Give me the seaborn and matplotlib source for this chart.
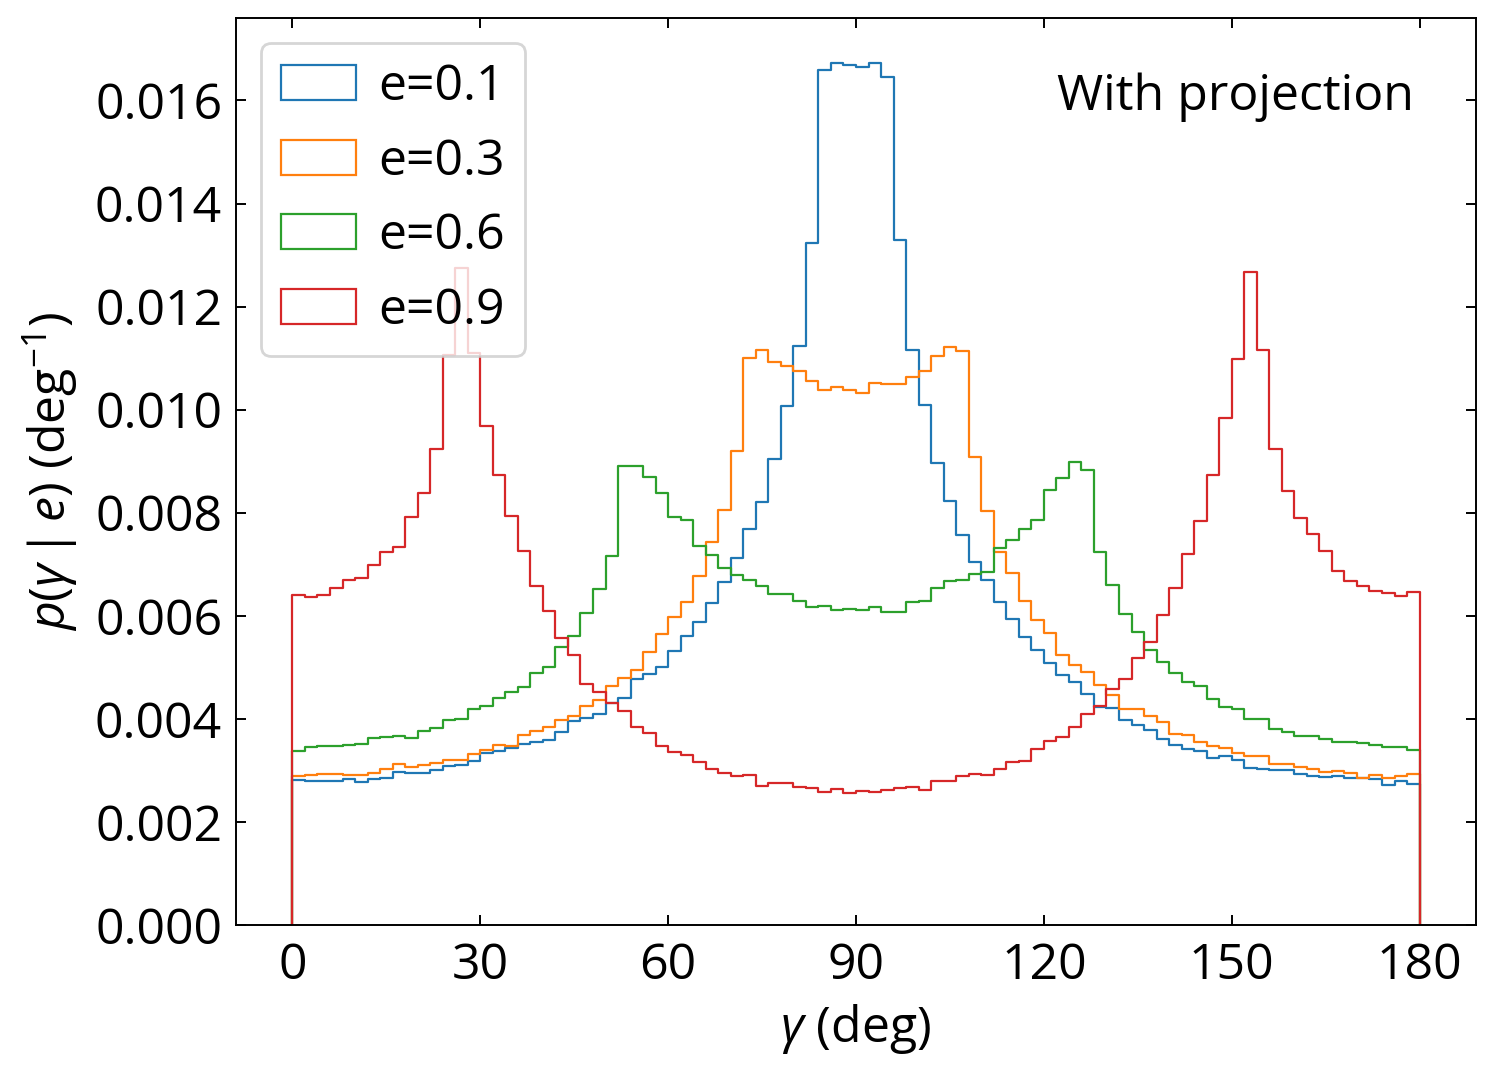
import numpy as np
import pandas as pd
import matplotlib
matplotlib.use("Agg")
import matplotlib.pyplot as plt
from matplotlib.patches import Patch
import seaborn as sns

# ------------------------------------------------------------------ #
# Step histograms of the angle gamma for four eccentricities,
# 2 degree bins from 0 to 180
# ------------------------------------------------------------------ #

bin_edges = np.arange(0, 181, 2)
labels = ["e=0.1", "e=0.3", "e=0.6", "e=0.9"]
colors = ["#1f77b4", "#ff7f0e", "#2ca02c", "#d62728"]

p_e01 = [0.00282, 0.00280, 0.00280, 0.00280, 0.00284, 0.00278, 0.00284, 0.00286, 0.00296, 0.00295,
         0.00295, 0.00300, 0.00309, 0.00310, 0.00319, 0.00333, 0.00337, 0.00343, 0.00351, 0.00355,
         0.00359, 0.00374, 0.00395, 0.00401, 0.00410, 0.00430, 0.00441, 0.00477, 0.00487, 0.00500,
         0.00532, 0.00560, 0.00588, 0.00625, 0.00665, 0.00712, 0.00768, 0.00821, 0.00905, 0.01008,
         0.01123, 0.01324, 0.01660, 0.01673, 0.01669, 0.01664, 0.01673, 0.01646, 0.01329, 0.01116,
         0.01009, 0.00897, 0.00823, 0.00757, 0.00705, 0.00670, 0.00627, 0.00594, 0.00559, 0.00533,
         0.00509, 0.00485, 0.00471, 0.00448, 0.00423, 0.00421, 0.00397, 0.00388, 0.00378, 0.00361,
         0.00350, 0.00341, 0.00337, 0.00324, 0.00328, 0.00320, 0.00305, 0.00302, 0.00300, 0.00300,
         0.00293, 0.00289, 0.00287, 0.00289, 0.00285, 0.00285, 0.00283, 0.00271, 0.00279, 0.00273]

p_e03 = [0.00289, 0.00291, 0.00293, 0.00294, 0.00291, 0.00291, 0.00295, 0.00302, 0.00312, 0.00307,
         0.00310, 0.00315, 0.00321, 0.00321, 0.00331, 0.00340, 0.00350, 0.00348, 0.00368, 0.00377,
         0.00385, 0.00398, 0.00406, 0.00425, 0.00437, 0.00464, 0.00480, 0.00495, 0.00529, 0.00565,
         0.00597, 0.00627, 0.00678, 0.00744, 0.00805, 0.00920, 0.01100, 0.01116, 0.01093, 0.01085,
         0.01075, 0.01056, 0.01039, 0.01044, 0.01038, 0.01033, 0.01052, 0.01050, 0.01049, 0.01063,
         0.01075, 0.01104, 0.01122, 0.01114, 0.00909, 0.00803, 0.00724, 0.00683, 0.00629, 0.00592,
         0.00566, 0.00524, 0.00505, 0.00491, 0.00465, 0.00446, 0.00419, 0.00419, 0.00405, 0.00394,
         0.00371, 0.00369, 0.00355, 0.00348, 0.00343, 0.00333, 0.00328, 0.00328, 0.00313, 0.00313,
         0.00306, 0.00302, 0.00297, 0.00299, 0.00295, 0.00285, 0.00291, 0.00285, 0.00289, 0.00293]

p_e06 = [0.00338, 0.00345, 0.00348, 0.00348, 0.00350, 0.00352, 0.00363, 0.00365, 0.00367, 0.00363,
         0.00377, 0.00383, 0.00397, 0.00400, 0.00419, 0.00425, 0.00441, 0.00452, 0.00462, 0.00489,
         0.00500, 0.00539, 0.00561, 0.00605, 0.00652, 0.00717, 0.00891, 0.00891, 0.00869, 0.00839,
         0.00792, 0.00785, 0.00736, 0.00718, 0.00692, 0.00679, 0.00670, 0.00658, 0.00642, 0.00642,
         0.00629, 0.00617, 0.00619, 0.00612, 0.00614, 0.00612, 0.00617, 0.00607, 0.00607, 0.00627,
         0.00629, 0.00654, 0.00667, 0.00670, 0.00681, 0.00685, 0.00731, 0.00747, 0.00768, 0.00786,
         0.00844, 0.00867, 0.00898, 0.00883, 0.00724, 0.00660, 0.00603, 0.00569, 0.00534, 0.00511,
         0.00489, 0.00471, 0.00463, 0.00439, 0.00423, 0.00419, 0.00399, 0.00399, 0.00380, 0.00374,
         0.00367, 0.00367, 0.00361, 0.00355, 0.00355, 0.00353, 0.00349, 0.00345, 0.00345, 0.00339]

p_e09 = [0.00640, 0.00637, 0.00641, 0.00653, 0.00669, 0.00674, 0.00699, 0.00723, 0.00734, 0.00792,
         0.00838, 0.00924, 0.01106, 0.01275, 0.01109, 0.00969, 0.00874, 0.00794, 0.00725, 0.00658,
         0.00609, 0.00557, 0.00524, 0.00467, 0.00452, 0.00430, 0.00416, 0.00385, 0.00372, 0.00348,
         0.00335, 0.00330, 0.00316, 0.00302, 0.00295, 0.00289, 0.00291, 0.00270, 0.00275, 0.00275,
         0.00267, 0.00265, 0.00258, 0.00263, 0.00256, 0.00260, 0.00258, 0.00262, 0.00265, 0.00267,
         0.00262, 0.00279, 0.00280, 0.00289, 0.00293, 0.00291, 0.00303, 0.00316, 0.00318, 0.00342,
         0.00357, 0.00364, 0.00384, 0.00410, 0.00425, 0.00458, 0.00478, 0.00518, 0.00550, 0.00601,
         0.00654, 0.00720, 0.00784, 0.00874, 0.00984, 0.01098, 0.01267, 0.01116, 0.00924, 0.00843,
         0.00790, 0.00759, 0.00725, 0.00686, 0.00668, 0.00658, 0.00649, 0.00644, 0.00639, 0.00646]

all_p = [p_e01, p_e03, p_e06, p_e09]
bin_centers = 0.5 * (bin_edges[:-1] + bin_edges[1:])

sns.set_style("ticks", rc={"xtick.direction": "in", "ytick.direction": "in",
                           "xtick.top": True, "ytick.right": True,
                           "axes.edgecolor": "black", "text.color": "black",
                           "axes.labelcolor": "black", "xtick.color": "black",
                           "ytick.color": "black"})
plt.rcParams['font.family'] = ['Open Sans', 'DejaVu Sans']
plt.rcParams['mathtext.fontset'] = 'custom'
plt.rcParams['mathtext.rm'] = 'Open Sans'
plt.rcParams['mathtext.it'] = 'Open Sans:italic'
plt.rcParams['mathtext.bf'] = 'Open Sans:bold'
plt.rcParams['font.size'] = 18
plt.rcParams['axes.linewidth'] = 0.7
plt.rcParams['xtick.major.width'] = 0.7
plt.rcParams['ytick.major.width'] = 0.7

fs = 18
fig = plt.figure(figsize=(7.48, 5.385), dpi=200)
ax = fig.add_axes([0.1578, 0.1411, 0.8288, 0.8422])

handles = []
for p, lab, c in zip(all_p, labels, colors):
    df = pd.DataFrame({"gamma": bin_centers, "p": p})
    sns.histplot(data=df, x="gamma", weights="p", binwidth=2, binrange=(0, 180),
                 element="step", fill=False, color=c, linewidth=0.8, ax=ax)
    # closing edges of the step outline down to zero
    ax.vlines([bin_edges[0], bin_edges[-1]], 0, [p[0], p[-1]], color=c, linewidth=0.8)
    handles.append(Patch(facecolor="none", edgecolor=c, linewidth=0.8, label=lab))

ax.set_xticks(np.arange(0, 181, 30))
ax.set_yticks(np.arange(0, 0.0161, 0.002))
ax.set_ylim(0, 0.0176)
ax.set_xlim(-9, 189)
ax.tick_params(labelsize=fs, length=3.5)
ax.tick_params(axis="x", pad=6)
ax.tick_params(axis="y", pad=5)
ax.set_xlabel(r"$\gamma$ (deg)", fontsize=fs)
ax.set_ylabel(r"$p(\gamma\,|\,e)$ (deg$^{-1}$)", fontsize=fs, labelpad=5)
ax.legend(handles=handles, loc="upper left", fontsize=fs, handlelength=1.5,
          handletextpad=0.45)
ax.text(0.95, 0.94, "With projection", transform=ax.transAxes, ha="right", va="top",
        fontsize=fs)

fig.savefig("out.png", dpi=200)
